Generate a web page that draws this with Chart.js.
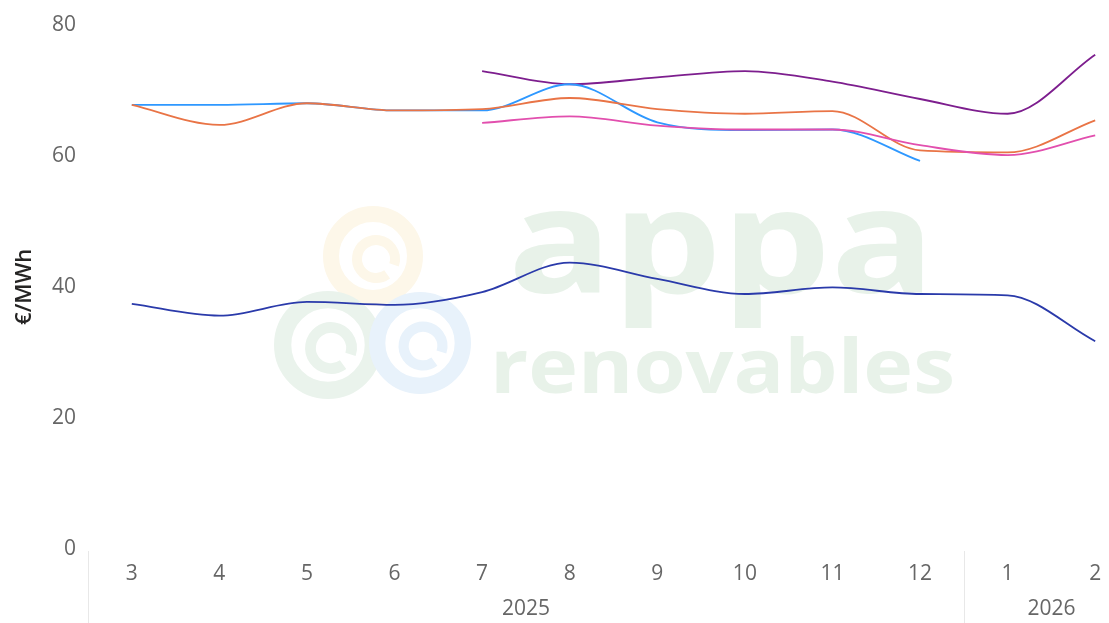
<!DOCTYPE html>
<html>
<head>
<meta charset="utf-8">
<script src="https://cdn.jsdelivr.net/npm/chart.js@4/dist/chart.umd.min.js"></script>
<style>
html,body{margin:0;padding:0;overflow:hidden;background:#fff;width:1109px;height:623px}
#wrap{position:absolute;left:0;top:0;width:1145px;height:623px}
</style>
</head>
<body>
<div id="wrap"><canvas id="c" width="1145" height="623"></canvas></div>
<script>
// ---- data ----
const months = ['3','4','5','6','7','8','9','10','11','12','1','2'];
const monthYears = ['2025','2025','2025','2025','2025','2025','2025','2025','2025','2025','2026','2026'];
const yTicks = [0, 20, 40, 60, 80];
const yTitle = '€/MWh';

const serieAzul     = [67.75, 67.75, 68.0, 66.9, 66.9, 70.9, 65.1, 63.9, 64.0, 59.2, null, null];
const serieNaranja  = [67.75, 64.7, 68.0, 66.9, 67.1, 68.8, 67.1, 66.4, 66.8, 60.8, 60.5, 65.4];
const serieMorada   = [null, null, null, null, 72.9, 70.9, 71.95, 72.9, 71.3, 68.65, 66.4, 75.4];
const serieRosa     = [null, null, null, null, 65.0, 66.0, 64.6, 64.0, 64.0, 61.6, 60.1, 63.1];
const serieAzulOsc  = [37.4, 35.6, 37.7, 37.25, 39.2, 43.7, 41.2, 38.9, 39.9, 38.9, 38.7, 31.7];

// ---- build year groups from monthYears ----
const yearGroups = [];
monthYears.forEach((y, i) => {
  const last = yearGroups[yearGroups.length - 1];
  if (last && last.label === y) last.to = i; else yearGroups.push({label: y, from: i, to: i});
});

const FONT = "'Open Sans', 'Segoe UI', sans-serif";

const watermark = {
  id: 'watermark',
  beforeDatasetsDraw(chart) {
    const ctx = chart.ctx;
    ctx.save();
    const ring = (cx, cy, r, col) => {
      ctx.strokeStyle = col;
      ctx.lineWidth = r * 0.32;
      ctx.beginPath(); ctx.arc(cx, cy, r * 0.84, 0, Math.PI * 2); ctx.stroke();
      ctx.lineWidth = r * 0.2;
      ctx.beginPath(); ctx.arc(cx + 3, cy + 3, r * 0.38, Math.PI * 0.3, Math.PI * 2.1); ctx.stroke();
    };
    ring(373, 256, 50, '#fdf7e9');
    ring(328, 345, 54, '#eaf3ec');
    ring(420, 343, 51, '#e8f2fb');
    const txt = (s, weight, size, x0, x1, base) => {
      ctx.font = weight + ' ' + size + 'px ' + FONT;
      const w = ctx.measureText(s).width;
      ctx.save();
      ctx.translate(x0, base);
      ctx.scale((x1 - x0) / w, 1);
      ctx.fillStyle = '#e8f2e9';
      ctx.textBaseline = 'alphabetic';
      ctx.textAlign = 'left';
      ctx.fillText(s, 0, 0);
      ctx.restore();
    };
    txt('appa', 700, 146, 508, 935, 293);
    txt('renovables', 700, 76, 490, 955, 393);
    ctx.restore();
  }
};

const yearAxis = {
  id: 'yearAxis',
  afterDraw(chart) {
    const x = chart.scales.x;
    const ctx = chart.ctx;
    const half = (x.getPixelForValue(1) - x.getPixelForValue(0)) / 2;
    ctx.save();
    ctx.strokeStyle = '#e8e8e8';
    ctx.lineWidth = 1;
    ctx.font = '21px ' + FONT;
    ctx.fillStyle = '#666666';
    ctx.textAlign = 'center';
    ctx.textBaseline = 'middle';
    yearGroups.forEach(g => {
      const l = x.getPixelForValue(g.from) - half;
      const r = x.getPixelForValue(g.to) + half;
      const lx = Math.round(l) + 0.5;
      ctx.beginPath(); ctx.moveTo(lx, chart.chartArea.bottom + 2); ctx.lineTo(lx, 623); ctx.stroke();
      ctx.fillText(g.label, (l + r) / 2, 609);
    });
    ctx.restore();
  }
};

const mk = (label, data, color) => ({
  label, data, borderColor: color, backgroundColor: color,
  borderWidth: 1.8, pointRadius: 0, pointHoverRadius: 0,
  cubicInterpolationMode: 'monotone', spanGaps: false, fill: false
});

new Chart(document.getElementById('c'), {
  type: 'line',
  data: {
    labels: months,
    datasets: [
      mk('Serie 5', serieAzulOsc, '#2A3AAA'),
      mk('Serie 4', serieRosa, '#E24FAE'),
      mk('Serie 2', serieNaranja, '#E97446'),
      mk('Serie 1', serieAzul, '#2E98FF'),
      mk('Serie 3', serieMorada, '#7D1E8E')
    ]
  },
  options: {
    responsive: false,
    animation: false,
    devicePixelRatio: 1,
    layout: { padding: { top: 20, right: 6, bottom: 0, left: 0 } },
    plugins: { legend: { display: false }, tooltip: { enabled: false } },
    scales: {
      x: {
        type: 'category',
        offset: true,
        grid: { display: false, drawTicks: false },
        border: { display: false },
        ticks: { color: '#666666', font: { family: FONT, size: 21 }, padding: 12, maxRotation: 0, autoSkip: false },
        afterFit(s) { s.height = 74; }
      },
      y: {
        min: 0, max: 80,
        afterBuildTicks(s) { s.ticks = yTicks.map(v => ({ value: v })); },
        grid: { display: false, drawTicks: false },
        border: { display: false },
        ticks: { color: '#666666', font: { family: FONT, size: 21 }, padding: 12 },
        title: { display: true, text: yTitle, color: '#252423', font: { family: FONT, size: 22, weight: '600' }, padding: { top: 12, bottom: 0 } },
        afterFit(s) { s.width = 88; }
      }
    }
  },
  plugins: [watermark, yearAxis]
});
</script>
</body>
</html>
